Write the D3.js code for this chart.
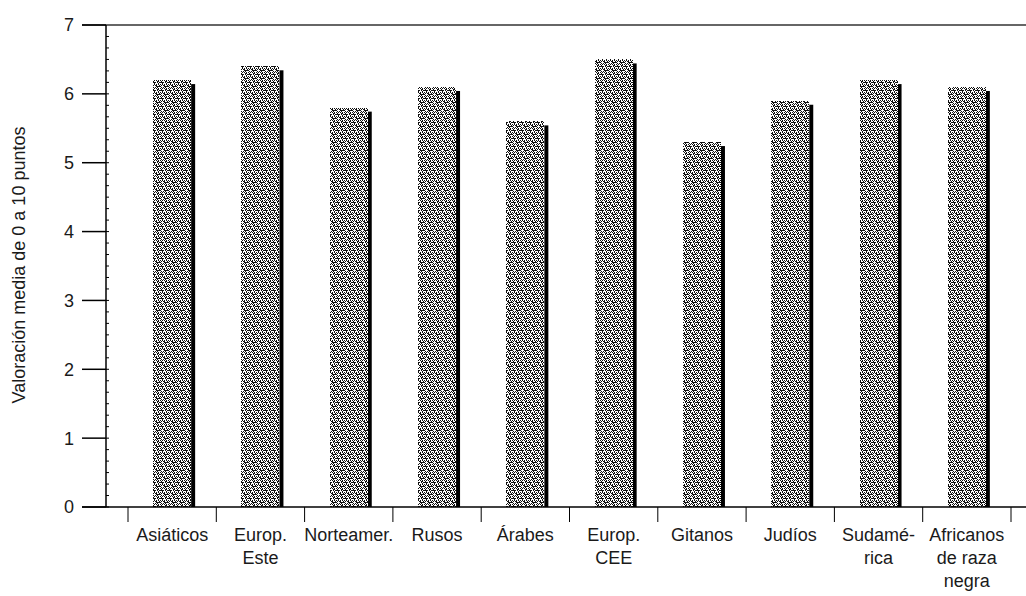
<!DOCTYPE html>
<html>
<head>
<meta charset="utf-8">
<script src="https://cdn.jsdelivr.net/npm/d3@7"></script>
<style>
  body { margin: 0; background: #fff; }
  text { font-family: "Liberation Sans", Arial, sans-serif; fill: #1a1a1a; }
</style>
</head>
<body>
<svg id="chart" width="1026" height="596"></svg>
<script>
// data
var categories = ["Asiáticos", "Europ. Este", "Norteamer.", "Rusos", "Árabes",
                  "Europ. CEE", "Gitanos", "Judíos", "Sudamérica", "Africanos de raza negra"];
var labelLines = [["Asiáticos"], ["Europ.", "Este"], ["Norteamer."], ["Rusos"], ["Árabes"],
                  ["Europ.", "CEE"], ["Gitanos"], ["Judíos"], ["Sudamé-", "rica"], ["Africanos", "de raza", "negra"]];
var values = [6.2, 6.4, 5.8, 6.1, 5.6, 6.5, 5.3, 5.9, 6.2, 6.1];
var yTicks = [0, 1, 2, 3, 4, 5, 6, 7];
var yTitle = "Valoración media de 0 a 10 puntos";

var svg = d3.select("#chart");

var x = d3.scaleBand().domain(categories).range([128, 1011]).padding(0);
var y = d3.scaleLinear().domain([0, 7]).range([507, 25]);
var axisX = 106, left = 82, right = 1026;

// stipple pattern for the bars (scanned halftone look)
var defs = svg.append("defs");
var pat = defs.append("pattern")
    .attr("id", "stipple")
    .attr("patternUnits", "userSpaceOnUse")
    .attr("width", 8).attr("height", 8);
pat.append("rect").attr("width", 8).attr("height", 8).attr("fill", "#fff");
[[0,0,1,1],[2,0,1,1],[4,0,1,1],[6,0,1,1],
 [1,1,1,1],[5,1,2,1],
 [0,2,4,1],[5,2,1,1],[7,2,1,1],
 [2,3,1,1],[6,3,1,1],
 [0,4,1,1],[2,4,1,1],[4,4,1,1],[6,4,1,1],
 [1,5,1,1],[3,5,2,1],[7,5,1,1],
 [0,6,1,1],[4,6,4,1],
 [1,7,1,1],[3,7,1,1],[5,7,1,1]].forEach(function(r) {
  pat.append("rect").attr("x", r[0]).attr("y", r[1])
     .attr("width", r[2]).attr("height", r[3]).attr("fill", "#111");
});

// top frame line
svg.append("line")
    .attr("x1", left).attr("x2", right)
    .attr("y1", y(7)).attr("y2", y(7))
    .attr("stroke", "#666").attr("stroke-width", 2);

// y axis
svg.append("line")
    .attr("x1", axisX).attr("x2", axisX)
    .attr("y1", y(7)).attr("y2", y(0))
    .attr("stroke", "#000").attr("stroke-width", 1.5);

var minor = d3.range(0, 42).map(function(i) { return i / 6; });
svg.selectAll(".minor").data(minor).enter().append("line")
    .attr("class", "minor")
    .attr("x1", axisX).attr("x2", axisX + 3)
    .attr("y1", function(d) { return y(d); })
    .attr("y2", function(d) { return y(d); })
    .attr("stroke", "#000").attr("stroke-width", 1);

svg.selectAll(".ytick").data(yTicks).enter().append("line")
    .attr("class", "ytick")
    .attr("x1", left).attr("x2", axisX)
    .attr("y1", function(d) { return y(d); })
    .attr("y2", function(d) { return y(d); })
    .attr("stroke", "#000").attr("stroke-width", 1.5);

svg.selectAll(".ylab").data(yTicks).enter().append("text")
    .attr("class", "ylab")
    .attr("x", 74)
    .attr("y", function(d) { return y(d); })
    .attr("dy", "0.36em")
    .attr("text-anchor", "end")
    .style("font-size", "18px")
    .text(function(d) { return d; });

svg.append("text")
    .attr("transform", "translate(25," + 265 + ") rotate(-90)")
    .attr("text-anchor", "middle")
    .style("font-size", "18px")
    .text(yTitle);

// bars with black right-hand shadow
var bars = svg.selectAll(".bar").data(values).enter().append("g").attr("class", "bar");
bars.append("rect")
    .attr("x", function(d, i) { return x(categories[i]) + x.bandwidth() / 2 + 19; })
    .attr("y", function(d) { return y(d) + 4; })
    .attr("width", 4)
    .attr("height", function(d) { return y(0) - y(d) - 4; })
    .attr("fill", "#000");
bars.append("rect")
    .attr("x", function(d, i) { return x(categories[i]) + x.bandwidth() / 2 - 19; })
    .attr("y", function(d) { return y(d); })
    .attr("width", 38)
    .attr("height", function(d) { return y(0) - y(d); })
    .attr("fill", "url(#stipple)")
    .attr("shape-rendering", "crispEdges");

// x axis
svg.append("line")
    .attr("x1", left).attr("x2", right)
    .attr("y1", y(0)).attr("y2", y(0))
    .attr("stroke", "#000").attr("stroke-width", 1.5);

var bounds = categories.map(function(c) { return x(c); }).concat([x.range()[1]]);
svg.selectAll(".xtick").data(bounds).enter().append("line")
    .attr("class", "xtick")
    .attr("x1", function(d) { return d; }).attr("x2", function(d) { return d; })
    .attr("y1", y(0)).attr("y2", y(0) + 15)
    .attr("stroke", "#000").attr("stroke-width", 1);

var xl = svg.selectAll(".xlab").data(labelLines).enter().append("text")
    .attr("class", "xlab")
    .attr("text-anchor", "middle")
    .style("font-size", "18px");
xl.selectAll("tspan").data(function(d, i) {
    return d.map(function(s) { return { s: s, cx: x(categories[i]) + x.bandwidth() / 2 }; });
  }).enter().append("tspan")
    .attr("x", function(d) { return d.cx; })
    .attr("y", function(d, j) { return 541 + j * 23; })
    .text(function(d) { return d.s; });
</script>
</body>
</html>
